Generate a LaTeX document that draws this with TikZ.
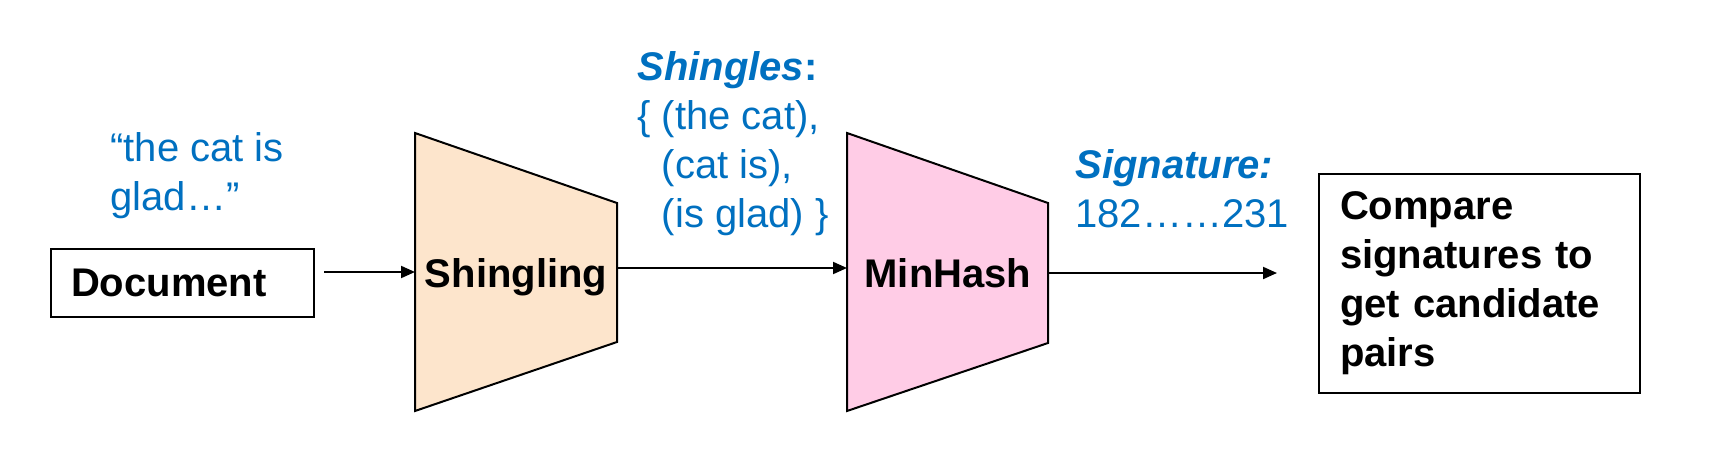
\documentclass[tikz,border=0pt]{standalone}
\usepackage{fontspec}
\setmainfont{Liberation Sans}
\usetikzlibrary{calc}
\usetikzlibrary{positioning}
\usetikzlibrary{arrows.meta}
\definecolor{noteblue}{RGB}{0,112,192}
\definecolor{shinglefill}{RGB}{253,229,204}
\definecolor{hashfill}{RGB}{255,204,230}

\begin{document}
\begin{tikzpicture}[x=0.5pt, y=-0.5pt,
    font=\fontsize{20}{24.5}\selectfont,
    box/.style={draw, line width=1pt, inner xsep=10pt, align=left,
      font=\fontsize{20}{24.5}\selectfont\bfseries},
    note/.style={text=noteblue, align=left, inner sep=0pt, anchor=north west},
    label/.style={anchor=base, font=\fontsize{20}{24.5}\selectfont\bfseries},
    funnel/.style={draw, line width=1pt},
    flow/.style={-{Triangle[length=7pt,width=6pt]}, line width=1pt}]
  \useasboundingbox (0,0) rectangle (1714,471);

  % input document and its text
  \node[box, text width=111.5pt, minimum height=34pt] (doc) at (182.5,283) {Document};
  \node[note] (quote) at (110,132) {“the cat is\\glad…”};

  % shingling stage
  \coordinate (s1) at (415,133);
  \coordinate (s2) at (617,203);
  \coordinate (s3) at (617,342);
  \coordinate (s4) at (415,411);
  \draw[funnel, fill=shinglefill] (s1) -- (s2) -- (s3) -- (s4) -- cycle;
  \node[label] (shingling) at (516,287) {Shingling};
  \node[note] (shingles) at (637,51)
    {\textbf{\textit{Shingles}:}\\\{ (the cat),\\\phantom{\{ }(cat is),\\\phantom{\{ }(is glad) \}};

  % minhash stage
  \coordinate (m1) at (847,133);
  \coordinate (m2) at (1048,203);
  \coordinate (m3) at (1048,343);
  \coordinate (m4) at (847,411);
  \draw[funnel, fill=hashfill] (m1) -- (m2) -- (m3) -- (m4) -- cycle;
  \node[label] (minhash) at (948,287) {MinHash};
  \node[note] (sig) at (1075,149) {\textbf{\textit{Signature:}}\\182……231};

  % output
  \node[box, text width=139.5pt, inner xsep=10.5pt, minimum height=109.5pt] (cmp) at (1479.5,283.5)
    {Compare\\signatures to\\get candidate\\pairs};

  % connectors
  \coordinate (shin) at (415,272);
  \coordinate (sout) at (617,268);
  \coordinate (hin) at (847,268);
  \coordinate (hout) at (1048,273);
  \draw[flow, shorten <=4.5pt] (doc.east |- shin) -- (shin);
  \draw[flow] (sout) -- (hin);
  \draw[flow, shorten >=20.5pt] (hout) -- (cmp.west |- hout);
\end{tikzpicture}
\end{document}
